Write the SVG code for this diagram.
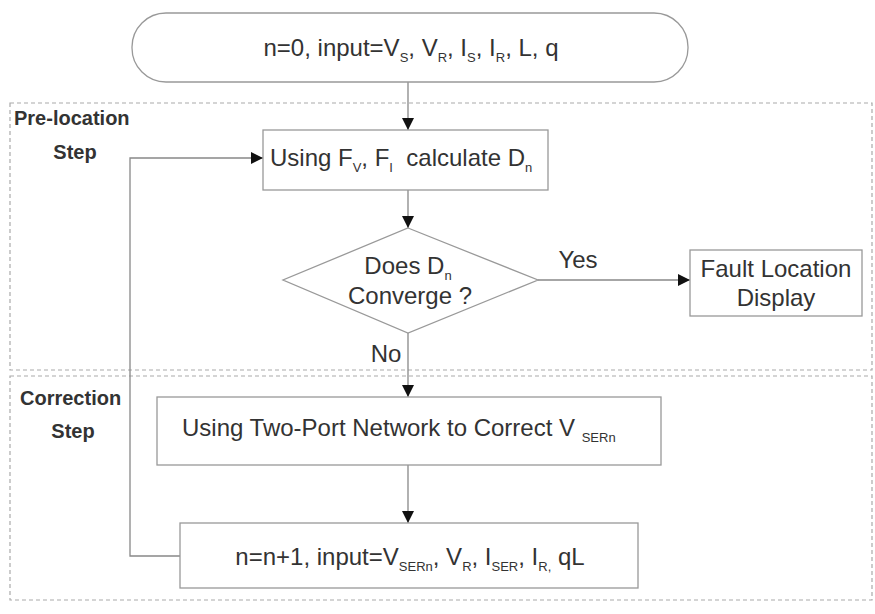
<svg xmlns="http://www.w3.org/2000/svg" width="875" height="614" viewBox="0 0 875 614">
<defs>
<style>
.t{font-family:"Liberation Sans",Arial,sans-serif;font-size:24px;fill:#333}
.s{font-size:13px}
.lab{font-family:"Liberation Sans",Arial,sans-serif;font-size:20px;font-weight:bold;fill:#333}
.box{fill:#fff;stroke:#999;stroke-width:1.3}
.zone{fill:none;stroke:#aaa;stroke-width:1.2;stroke-dasharray:4 3}
.ln{fill:none;stroke:#888;stroke-width:1.3}
</style>
<marker id="ah" viewBox="0 0 10 10" refX="10" refY="5" markerWidth="12" markerHeight="12" markerUnits="userSpaceOnUse" orient="auto">
<path d="M0,0 L10,5 L0,10 z" fill="#111"/>
</marker>
</defs>
<rect width="875" height="614" fill="#fff"/>
<g id="zones">
<rect class="zone" x="10" y="103" width="862" height="267"/>
<rect class="zone" x="10" y="376" width="862" height="224"/>
<text class="lab" x="14" y="125">Pre-location</text>
<text class="lab" x="75" y="159" text-anchor="middle">Step</text>
<text class="lab" x="20" y="405">Correction</text>
<text class="lab" x="73" y="438" text-anchor="middle">Step</text>
</g>
<g id="connectors">
<line class="ln" x1="408" y1="82" x2="408" y2="130" marker-end="url(#ah)"/>
<line class="ln" x1="408" y1="190" x2="408" y2="228" marker-end="url(#ah)"/>
<line class="ln" x1="538" y1="280" x2="690" y2="280" marker-end="url(#ah)"/>
<line class="ln" x1="408" y1="333" x2="408" y2="397" marker-end="url(#ah)"/>
<line class="ln" x1="408" y1="465" x2="408" y2="523" marker-end="url(#ah)"/>
<polyline class="ln" points="180,556 130,556 130,158 263,158" marker-end="url(#ah)"/>
<text class="t" x="578" y="268" text-anchor="middle">Yes</text>
<text class="t" x="386" y="362" text-anchor="middle">No</text>
</g>
<g id="start">
<rect class="box" x="132" y="13" width="556" height="69" rx="34" ry="34"/>
<text class="t" x="411" y="56" text-anchor="middle">n=0, input=V<tspan class="s" dy="6">S</tspan><tspan dy="-6">, V</tspan><tspan class="s" dy="6">R</tspan><tspan dy="-6">, I</tspan><tspan class="s" dy="6">S</tspan><tspan dy="-6">, I</tspan><tspan class="s" dy="6">R</tspan><tspan dy="-6">, L, q</tspan></text>
</g>
<g id="calc">
<rect class="box" x="263" y="130" width="285" height="60"/>
<text class="t" x="270" y="166" xml:space="preserve">Using F<tspan class="s" dy="6">V</tspan><tspan dy="-6">, F</tspan><tspan class="s" dy="6">I</tspan><tspan dy="-6">  calculate D</tspan><tspan class="s" dy="6">n</tspan></text>
</g>
<g id="decision">
<polygon class="box" points="408,228 538,280 408,333 283,280"/>
<text class="t" x="408" y="274" text-anchor="middle">Does D<tspan class="s" dy="6">n</tspan></text>
<text class="t" x="410" y="304" text-anchor="middle">Converge ?</text>
</g>
<g id="display">
<rect class="box" x="690" y="250" width="172" height="66"/>
<text class="t" x="776" y="277" text-anchor="middle">Fault Location</text>
<text class="t" x="776" y="306" text-anchor="middle">Display</text>
</g>
<g id="correct">
<rect class="box" x="157" y="397" width="504" height="68"/>
<text class="t" x="182" y="436">Using Two-Port Network to Correct V <tspan class="s" dy="6">SERn</tspan></text>
</g>
<g id="update">
<rect class="box" x="180" y="523" width="458" height="65"/>
<text class="t" x="410" y="565" text-anchor="middle">n=n+1, input=V<tspan class="s" dy="6">SERn</tspan><tspan dy="-6">, V</tspan><tspan class="s" dy="6">R</tspan><tspan dy="-6">, I</tspan><tspan class="s" dy="6">SER</tspan><tspan dy="-6">, I</tspan><tspan class="s" dy="6">R,</tspan><tspan dy="-6"> qL</tspan></text>
</g>
</svg>
